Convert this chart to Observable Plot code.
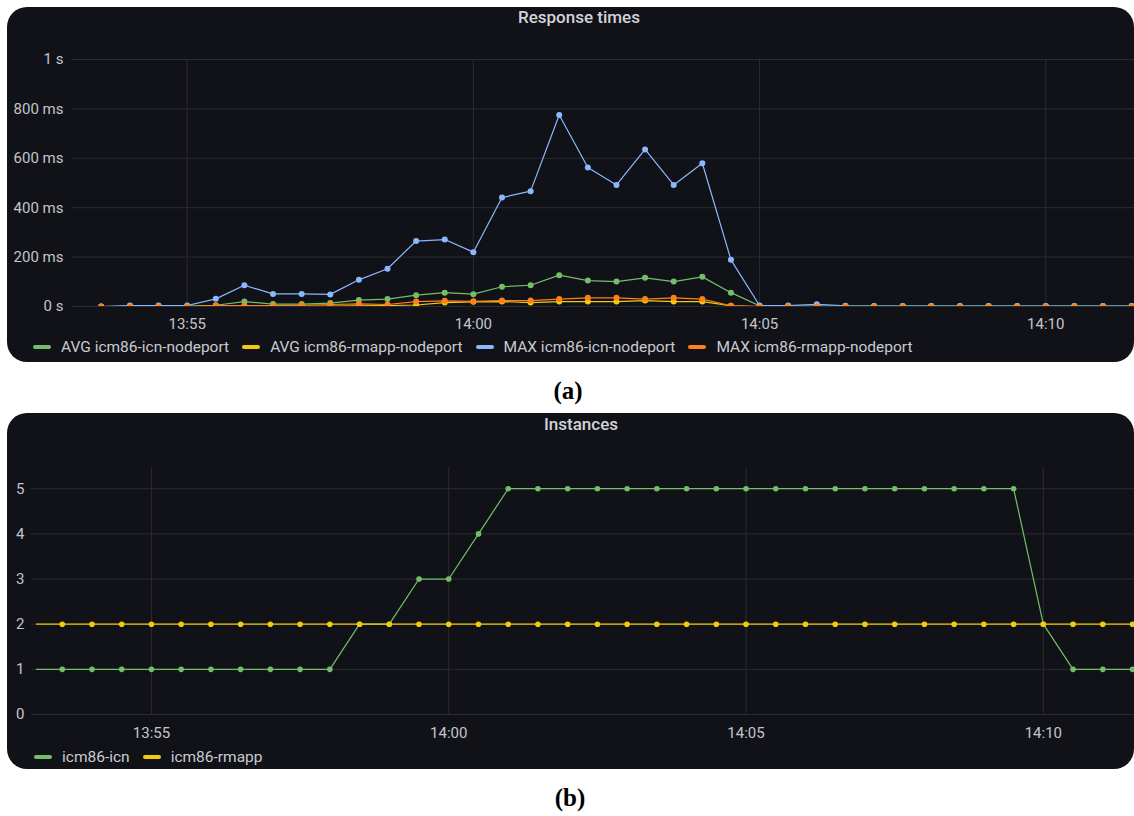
<!DOCTYPE html>
<html>
<head>
<meta charset="utf-8">
<script src="https://cdn.jsdelivr.net/npm/d3@7"></script>
<script src="https://cdn.jsdelivr.net/npm/@observablehq/plot@0.6"></script>
<style>
  html, body { margin: 0; padding: 0; background: #ffffff; }
  #page { position: relative; width: 1134px; height: 816px; overflow: hidden; background: #ffffff; }
  .panel { position: absolute; left: 7px; width: 1127px; background: #111217; border-radius: 20px; overflow: hidden; }
  .ptitle { position: absolute; transform: translateX(-50%); font-family: Roboto, "Noto Sans", sans-serif; font-size: 17px; font-weight: 500; color: #d2d3da; white-space: nowrap; }
  .legend { position: absolute; display: flex; align-items: center; font-family: Roboto, "Noto Sans", sans-serif; font-size: 15.5px; color: #c9cad1; white-space: nowrap; }
  .item { display: flex; align-items: center; margin-right: 13px; }
  .sw { width: 18px; height: 4px; border-radius: 2px; margin-right: 10px; }
  .plotbox { position: absolute; left: 0; }
  .cap { position: absolute; transform: translateX(-50%); font-family: "Liberation Serif", "Times New Roman", serif; font-weight: bold; font-size: 25px; color: #000; }
</style>
</head>
<body>
<div id="page">
  <div class="panel" id="panelA" style="top:7px;height:355px;">
    <div class="ptitle" style="left:572px;top:0px;">Response times</div>
    <div class="plotbox" id="plotA" style="top:33px;"></div>
    <div class="legend" id="legA" style="left:26px;top:331px;"></div>
  </div>
  <div class="cap" style="left:568px;top:377px;">(a)</div>
  <div class="panel" id="panelB" style="top:413px;height:356px;">
    <div class="ptitle" style="left:574px;top:1px;">Instances</div>
    <div class="plotbox" id="plotB" style="top:37px;"></div>
    <div class="legend" id="legB" style="left:27px;top:335px;"></div>
  </div>
  <div class="cap" style="left:570px;top:784px;">(b)</div>
</div>
<script>
// ---------- DATA ----------
const times = ["13:53:00","13:53:30","13:54:00","13:54:30","13:55:00","13:55:30","13:56:00","13:56:30","13:57:00","13:57:30",
  "13:58:00","13:58:30","13:59:00","13:59:30","14:00:00","14:00:30","14:01:00","14:01:30","14:02:00","14:02:30",
  "14:03:00","14:03:30","14:04:00","14:04:30","14:05:00","14:05:30","14:06:00","14:06:30","14:07:00","14:07:30",
  "14:08:00","14:08:30","14:09:00","14:09:30","14:10:00","14:10:30","14:11:00","14:11:30"];

// Response times (ms)
const avgIcn   = [0,0,2,2,2,5,20,10,10,14,26,30,46,56,50,80,86,127,105,101,116,101,120,56,3,2,2,2,2,2,2,2,2,2,2,2,2,2];
const avgRmapp = [0,0,0,0,0,2,2,2,2,2,3,4,6,16,19,20,16,20,20,20,24,20,20,3,0,0,0,0,0,0,0,0,0,0,0,0,0,0];
const maxIcn   = [0,0,4,4,4,31,86,51,51,49,108,153,265,271,220,441,467,775,563,492,636,492,580,189,4,4,9,3,2,2,2,2,2,2,2,2,2,2];
const maxRmapp = [0,0,0,0,0,4,4,4,5,8,11,8,20,23,21,24,24,30,35,35,30,35,30,3,0,0,0,0,0,0,0,0,0,0,0,0,0,0];

// Instances
const instIcn   = [1,1,1,1,1,1,1,1,1,1,1,2,2,3,3,4,5,5,5,5,5,5,5,5,5,5,5,5,5,5,5,5,5,5,2,1,1,1];
const instRmapp = [2,2,2,2,2,2,2,2,2,2,2,2,2,2,2,2,2,2,2,2,2,2,2,2,2,2,2,2,2,2,2,2,2,2,2,2,2,2];

const seriesA = ["AVG icm86-icn-nodeport","AVG icm86-rmapp-nodeport","MAX icm86-icn-nodeport","MAX icm86-rmapp-nodeport"];
const seriesB = ["icm86-icn","icm86-rmapp"];
const colorsA = ["#73BF69","#F2CC0C","#8AB8FF","#FF7F1A"];
const colorsB = ["#73BF69","#F2CC0C"];

const xTickLabels = ["13:55","14:00","14:05","14:10"];
const yTicksA = [0,200,400,600,800,1000];
const yTickLabelsA = ["0 s","200 ms","400 ms","600 ms","800 ms","1 s"];
const yTicksB = [0,1,2,3,4,5];

// ---------- HELPERS ----------
const parseT = s => { const p = s.split(":").map(Number); return new Date(2023,0,1,p[0],p[1],p[2] || 0); };
const GRID = "#2a2b31";
const TEXT = "#c4c5cc";

function buildRows(valuesList, names) {
  return names.map((name, si) => times.map((t, i) => ({time: parseT(t), value: valuesList[si][i], series: name})));
}

function legend(el, names, colors) {
  names.forEach((n, i) => {
    const it = document.createElement("div"); it.className = "item";
    const sw = document.createElement("div"); sw.className = "sw"; sw.style.background = colors[i];
    const tx = document.createElement("span"); tx.textContent = n;
    it.appendChild(sw); it.appendChild(tx); el.appendChild(it);
  });
}

// ---------- PANEL A ----------
const rowsA = buildRows([avgIcn, avgRmapp, maxIcn, maxRmapp], seriesA);
const marksA = [
  Plot.gridY(yTicksA, {stroke: GRID, strokeOpacity: 1}),
  Plot.gridX(xTickLabels.map(s => parseT(s)), {stroke: GRID, strokeOpacity: 1}),
  Plot.axisY(yTicksA, {label: null, tickSize: 5, tickPadding: 8, stroke: GRID, fill: TEXT, tickFormat: d => yTickLabelsA[yTicksA.indexOf(d)]}),
  Plot.axisX(xTickLabels.map(s => parseT(s)), {label: null, tickSize: 0, tickPadding: 12, fill: TEXT, tickFormat: d3.timeFormat("%H:%M")})
];
rowsA.forEach((rows, i) => {
  marksA.push(Plot.line(rows, {x: "time", y: "value", stroke: colorsA[i], strokeWidth: 1.2, clip: true}));
  marksA.push(Plot.dot(rows, {x: "time", y: "value", fill: colorsA[i], r: 3, clip: true}));
});
const plotA = Plot.plot({
  width: 1127, height: 300,
  marginLeft: 69, marginRight: 0, marginTop: 19, marginBottom: 34,
  style: {background: "transparent", fontFamily: "Roboto, 'Noto Sans', sans-serif", fontSize: "15px", color: TEXT},
  x: {type: "time", domain: [new Date(2023,0,1,13,53,4.8), new Date(2023,0,1,14,11,33.2)], axis: null, label: null},
  y: {domain: [0, 1000], axis: null, label: null},
  marks: marksA
});
document.getElementById("plotA").appendChild(plotA);
legend(document.getElementById("legA"), seriesA, colorsA);

// ---------- PANEL B ----------
const rowsB = buildRows([instIcn, instRmapp], seriesB);
const marksB = [
  Plot.gridY(yTicksB, {stroke: GRID, strokeOpacity: 1}),
  Plot.gridX(xTickLabels.map(s => parseT(s)), {stroke: GRID, strokeOpacity: 1}),
  Plot.axisY(yTicksB, {label: null, tickSize: 5, tickPadding: 7, stroke: GRID, fill: TEXT, tickFormat: d3.format("d")}),
  Plot.axisX(xTickLabels.map(s => parseT(s)), {label: null, tickSize: 0, tickPadding: 13, fill: TEXT, tickFormat: d3.timeFormat("%H:%M")})
];
rowsB.forEach((rows, i) => {
  marksB.push(Plot.line(rows, {x: "time", y: "value", stroke: colorsB[i], strokeWidth: 1.2, clip: true}));
  marksB.push(Plot.dot(rows, {x: "time", y: "value", fill: colorsB[i], r: 2.8, clip: true}));
});
const plotB = Plot.plot({
  width: 1127, height: 300,
  marginLeft: 29, marginRight: 0, marginTop: 17, marginBottom: 36,
  style: {background: "transparent", fontFamily: "Roboto, 'Noto Sans', sans-serif", fontSize: "15px", color: TEXT},
  x: {type: "time", domain: [new Date(2023,0,1,13,53,4.2), new Date(2023,0,1,14,11,32.9)], axis: null, label: null},
  y: {domain: [0, 5.47], axis: null, label: null},
  marks: marksB
});
document.getElementById("plotB").appendChild(plotB);
legend(document.getElementById("legB"), seriesB, colorsB);
</script>
</body>
</html>
